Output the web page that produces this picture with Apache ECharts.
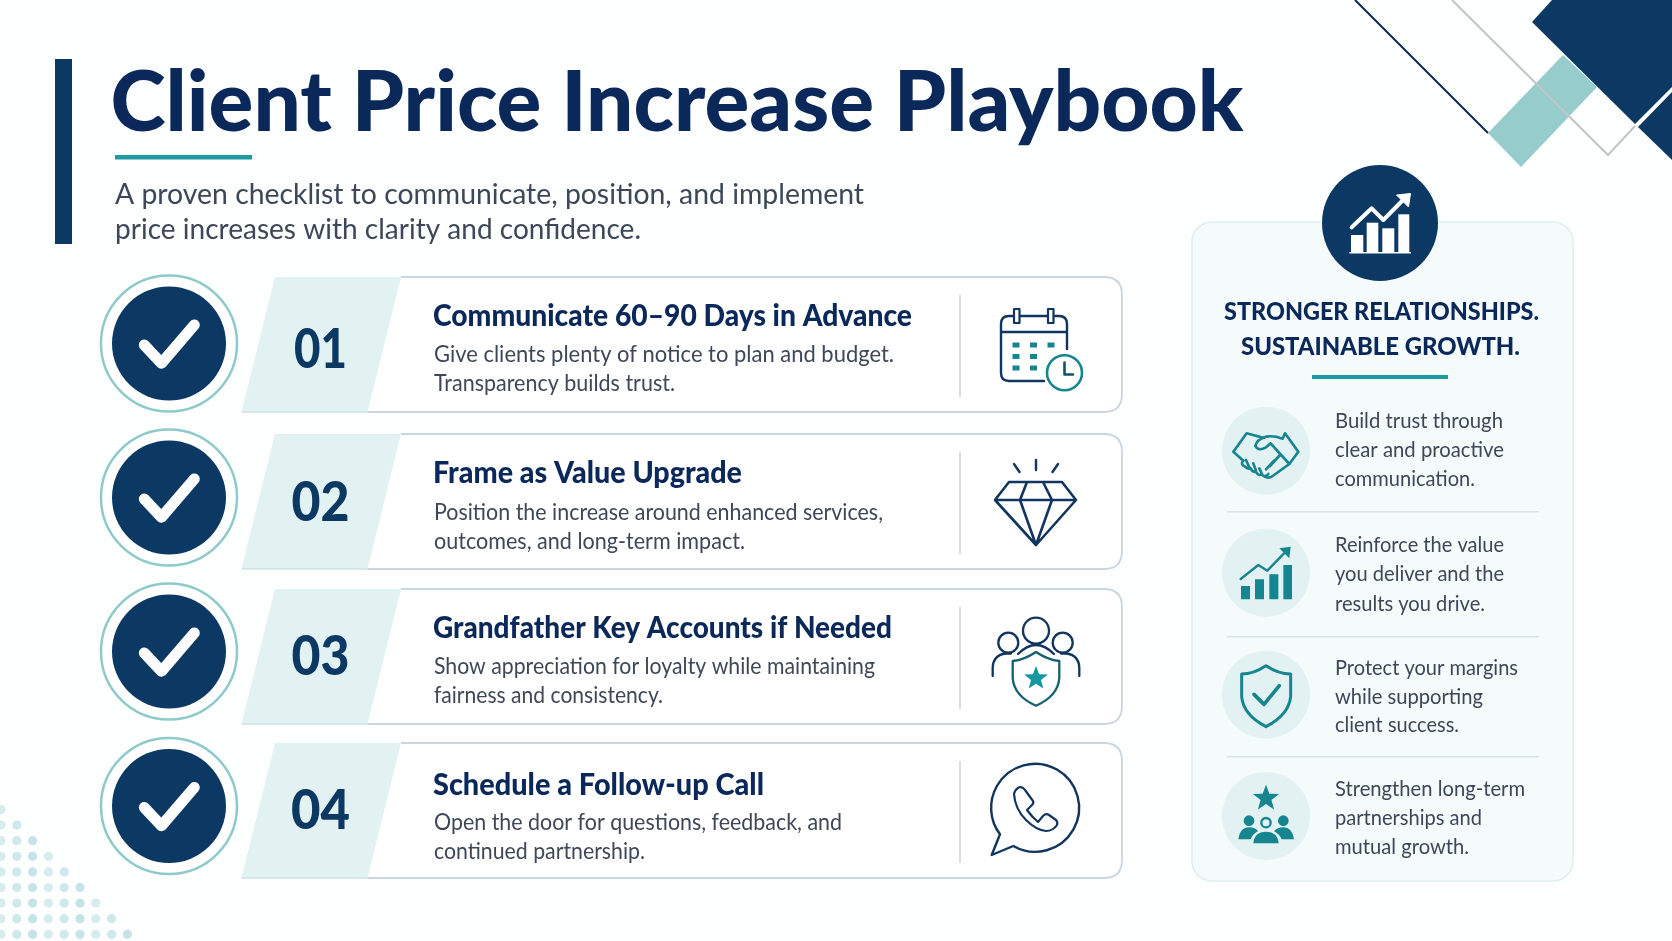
<!DOCTYPE html>
<html>
<head>
<meta charset="utf-8">
<title>Client Price Increase Playbook</title>
<script src="https://cdn.jsdelivr.net/npm/echarts@6/dist/echarts.min.js"></script>
<style>
html,body{margin:0;padding:0;background:#fdfefe;}
#main{width:1672px;height:941px;}
</style>
</head>
<body>
<div id="main"></div>
<script>
// texts
var pageTitle = 'Client Price Increase Playbook';
var subtitleLines = ['A proven checklist to communicate, position, and implement', 'price increases with clarity and confidence.'];
var stepNumbers = ['01', '02', '03', '04'];
var stepTitles = ['Communicate 60–90 Days in Advance', 'Frame as Value Upgrade', 'Grandfather Key Accounts if Needed', 'Schedule a Follow-up Call'];
var stepLines1 = ['Give clients plenty of notice to plan and budget.', 'Position the increase around enhanced services,', 'Show appreciation for loyalty while maintaining', 'Open the door for questions, feedback, and'];
var stepLines2 = ['Transparency builds trust.', 'outcomes, and long-term impact.', 'fairness and consistency.', 'continued partnership.'];
var panelHeading = ['STRONGER RELATIONSHIPS.', 'SUSTAINABLE GROWTH.'];
var benefitLines = [
    ['Build trust through', 'clear and proactive', 'communication.'],
    ['Reinforce the value', 'you deliver and the', 'results you drive.'],
    ['Protect your margins', 'while supporting', 'client success.'],
    ['Strengthen long-term', 'partnerships and', 'mutual growth.']
];
var dotsPerRow = [1, 2, 3, 4, 5, 6, 7, 8, 9];

// layout
var W_TITLE = 1133;
var W_SUB = [749, 526];
var W_STEP = [479, 309, 459, 331];
var W_L1 = [460, 449, 441, 408];
var W_L2 = [241, 311, 229, 211];
var W_NUM = [53, 58, 58, 59];
var W_HEAD = [315, 279];
var W_BEN = [[168, 169, 140], [169, 169, 150], [183, 148, 124], [190, 147, 134]];
var ROW_TOP = [277, 434, 589, 743];
var CIRCLE_Y = [343.5, 497.5, 651.5, 806];
var NUM_Y = [349.5, 503, 656.5, 810.5];
var TITLE_Y = [316.5, 473.5, 628.5, 785];
var LINE1_Y = [355, 512.5, 666.5, 822.5];
var LINE2_Y = [384, 541.5, 695.5, 851.5];
var BEN_Y = [450.7, 572.7, 694.7, 816];
var BEN_TEXT_Y = [[420.5, 450, 479], [545, 574, 604], [668, 697, 725], [789, 818, 847]];
var DIVIDER_Y = [511, 636, 756];

var NAVY = '#0c3964';
var INK = '#0a2859';
var GREY = '#3d4757';
var TEAL = '#1c9ba3';
var ICON_TEAL = '#16858f';
var PALE = '#e2f1f1';

var measure = document.createElement('canvas').getContext('2d');
var els = [];

// text squeezed to the width it has in the picture
function txt(x, y, s, size, weight, color, width, align) {
    var font = weight + ' ' + size + 'px "Lato"';
    measure.font = font;
    var k = width ? width / measure.measureText(s).width : 1;
    els.push({type: 'text', x: x, y: y, scaleX: k, silent: true,
        style: {text: s, x: 0, y: 0, font: font, fill: color, align: align || 'left', verticalAlign: 'middle'}});
}

var pathCount = 0;
function pth(d, style, tf) {
    var name = 'iconPath' + (pathCount++);
    echarts.graphic.registerShape(name, echarts.graphic.extendPath(d));
    var el = {type: name, silent: true, style: style};
    if (tf) { el.x = tf[0]; el.y = tf[1]; el.scaleX = tf[2]; el.scaleY = tf[2]; }
    els.push(el);
}
function line(color, w) { return {fill: 'none', stroke: color, lineWidth: w, lineCap: 'round', lineJoin: 'round'}; }
function solid(color) { return {fill: color}; }
function star(cx, cy, r) {
    var d = '';
    for (var i = 0; i < 10; i++) {
        var a = -Math.PI / 2 + i * Math.PI / 5, q = i % 2 ? r * 0.42 : r;
        d += (i ? 'L' : 'M') + (cx + q * Math.cos(a)).toFixed(1) + ' ' + (cy + q * Math.sin(a)).toFixed(1);
    }
    return d + 'Z';
}
function circle(cx, cy, r, style) { els.push({type: 'circle', silent: true, shape: {cx: cx, cy: cy, r: r}, style: style}); }
function rect(x, y, w, h, fill, r) { els.push({type: 'rect', silent: true, shape: {x: x, y: y, width: w, height: h, r: r || 0}, style: {fill: fill}}); }

// corner decoration, top right
pth('M1552 0H1672V87L1635 124L1532 22Z', solid(NAVY));
pth('M1638 127L1672 92V160Z', solid(NAVY));
pth('M1563 55L1597 87L1521 167L1488 133Z', solid('#97cccd'));
pth('M1355 0L1488 133', {fill: 'none', stroke: INK, lineWidth: 2});
pth('M1452 0L1608 155L1635 126', {fill: 'none', stroke: '#c2c5c7', lineWidth: 2});

// dots, bottom left
for (var r = 0; r < dotsPerRow.length; r++) {
    for (var c = 0; c < dotsPerRow[r]; c++) {
        circle(1 + c * 15.8, 809.5 + r * 15.6, 4.6, {fill: '#a9d6da', opacity: 0.45 + (c % 3) * 0.1});
    }
}

// header
rect(55, 59, 17, 185, NAVY);
txt(110.5, 104, pageTitle, 84, 900, INK, W_TITLE);
rect(115, 155, 137, 4.5, TEAL);
for (var s = 0; s < subtitleLines.length; s++) {
    txt(115, [195, 230][s], subtitleLines[s], 28, 400, GREY, W_SUB[s]);
}

// step cards
for (var i = 0; i < 4; i++) {
    var t = ROW_TOP[i], b = t + 135, cy = CIRCLE_Y[i];
    circle(169, cy, 68, {fill: '#fff', stroke: '#8fcaca', lineWidth: 2.5});
    circle(169, cy, 57, {fill: NAVY});
    pth('M' + 144.3 + ' ' + (cy + 1.5) + 'L161.4 ' + (cy + 19.8) + 'L194.3 ' + (cy - 18.5), line('#fff', 11));

    pth('M401 ' + t + 'H1104Q1122 ' + t + ' 1122 ' + (t + 18) + 'V' + (b - 18) + 'Q1122 ' + b + ' 1104 ' + b + 'H367.5Z', solid('#fff'));
    pth('M401 ' + t + 'H1104Q1122 ' + t + ' 1122 ' + (t + 18) + 'V' + (b - 18) + 'Q1122 ' + b + ' 1104 ' + b + 'H367.5', {fill: 'none', stroke: '#c9d6e2', lineWidth: 1.8});
    pth('M275 ' + t + 'H401L367.5 ' + b + 'H241.5Z', solid(PALE));
    pth('M241.5 ' + b + 'H367.5', {fill: 'none', stroke: '#cfe0e3', lineWidth: 1.5});

    txt(320.5, NUM_Y[i], stepNumbers[i], 56, 900, NAVY, W_NUM[i], 'center');
    txt(433, TITLE_Y[i], stepTitles[i], 30, 900, INK, W_STEP[i]);
    txt(434, LINE1_Y[i], stepLines1[i], 22.5, 400, GREY, W_L1[i]);
    txt(434, LINE2_Y[i], stepLines2[i], 22.5, 400, GREY, W_L2[i]);
    rect(959, t + 18, 2, 102, '#d9dde0');
}

// card icons: calendar
pth('M1067 349V324Q1067 316 1059 316H1009Q1001 316 1001 324V373Q1001 381 1009 381H1044M1001 332H1067', line('#12355f', 2.4));
pth('M1014 309H1019.5V323H1014ZM1048 309H1053.5V323H1048Z', {fill: '#fff', stroke: '#12355f', lineWidth: 2.2, lineJoin: 'round'});
var calX = [1012.5, 1030, 1047.5], calY = [342.5, 354, 365.5];
for (var cr = 0; cr < 3; cr++) {
    for (var cc = 0; cc < (cr ? 2 : 3); cc++) { rect(calX[cc], calY[cr], 7, 5, ICON_TEAL); }
}
circle(1064.5, 372.7, 17.5, {fill: '#fff', stroke: ICON_TEAL, lineWidth: 2.6});
pth('M1064.5 362.5V374.5H1073', line('#14506a', 2.6));

// diamond
pth('M1009 482H1062L1076 500L1036 545L995 500ZM995 500H1076M1020 500L1036 545L1052 500M1020 500L1027 482M1052 500L1043 482', line('#12355f', 2.6));
pth('M1036 460V470M1014 464L1019.5 472M1058 464L1052.5 472', line('#12355f', 2.4));

// people with shield
circle(1036, 630.7, 13, {fill: 'none', stroke: '#12355f', lineWidth: 2.3});
circle(1008.3, 642.7, 10, {fill: 'none', stroke: '#12355f', lineWidth: 2.3});
circle(1062.7, 642.7, 10, {fill: 'none', stroke: '#12355f', lineWidth: 2.3});
pth('M992.7 676V668Q993 655 1006 653.5H1011M1079.3 676V668Q1079 655 1066 653.5H1061M1018 654Q1036 636 1054 654', line('#12355f', 2.3));
pth('M1036 652Q1024 660 1012.7 661V678Q1014 696 1036 705.7Q1058 696 1059.3 678V661Q1048 660 1036 652Z', line('#14606f', 2.3));
pth(star(1036, 678.5, 12.5), solid('#15979f'));

// phone bubble
pth('M1000 834.3L991.7 855L1013.3 846A44 44 0 1 0 1000 834.3Z', line('#12355f', 2.4));
pth('M1014 794Q1015 789 1020 787Q1023 787 1025 790L1033 801Q1034 803 1032 805L1027 810Q1032 817 1038 822L1043 816Q1046 813 1049 815L1056 820Q1058 822 1057 825Q1053 831 1046 831Q1036 830 1026 820Q1015 809 1014 794Z', line('#12355f', 2.2));

// right panel
els.push({type: 'rect', silent: true, shape: {x: 1192, y: 222, width: 381, height: 659, r: 20}, style: {fill: '#f5fafb', stroke: '#e1eef0', lineWidth: 1.5}});
circle(1380, 223, 58, {fill: NAVY});
for (var br = 0; br < 4; br++) {
    rect([1351, 1366.7, 1382.3, 1398.3][br], [235, 222.7, 228.3, 214.3][br], [12.3, 11.6, 12, 11][br], 252 - [235, 222.7, 228.3, 214.3][br], '#fff');
}
rect(1349.3, 252, 61.7, 1.6, '#fff');
pth('M1351.7 227.3L1371.7 208.3L1383.3 220L1405 198', line('#fff', 4));
pth('M1410.5 193.5L1396.5 195L1408.5 207Z', {fill: '#fff', stroke: '#fff', lineWidth: 1});

txt(1381.5, 312, panelHeading[0], 24.5, 900, INK, W_HEAD[0], 'center');
txt(1380.5, 347, panelHeading[1], 24.5, 900, INK, W_HEAD[1], 'center');
rect(1312, 375, 136, 4, TEAL);

for (var d = 0; d < DIVIDER_Y.length; d++) { rect(1227, DIVIDER_Y[d], 312, 1.5, '#dbe4e6'); }
for (var n = 0; n < 4; n++) {
    circle(1266, BEN_Y[n], 44, {fill: PALE});
    for (var ln = 0; ln < 3; ln++) {
        txt(1335, BEN_TEXT_Y[n][ln], benefitLines[n][ln], 22, 400, GREY, W_BEN[n][ln]);
    }
}

// panel icons, drawn in crop coordinates and scaled down
var tfA = [1190, 150, 1 / 3], tfB = [1190, 510, 1 / 3];
// handshake
pth('M130 905L170 850L222 864M285 850L325 905L298 942L248 978Q235 988 222 978M285 850L278 866Q250 856 228 860Q200 868 196 888Q205 905 228 892L242 880L298 942M130 905L160 932', line(ICON_TEAL, 8), tfA);
pth('M160 932Q150 942 165 950Q172 958 182 955Q187 968 198 965Q203 978 215 973Q224 985 235 972M168 930L178 952M190 940L198 962M208 955L216 972M270 915L240 948M252 932L228 958', line(ICON_TEAL, 8), tfA);
// growth chart
pth('M153 228H180V268H153ZM195 208H222V268H195ZM238 193H265V268H238ZM280 165H306V268H280Z', solid(ICON_TEAL), tfB);
pth('M152 207L205 165L232 182L290 122', line(ICON_TEAL, 7), tfB);
pth('M302 110L268 115L298 145Z', solid(ICON_TEAL), tfB);
// shield with tick
pth('M228 467Q190 492 155 492V560Q160 615 228 650Q296 615 302 560V492Q266 492 228 467Z', line(ICON_TEAL, 9), tfB);
pth('M192 553L222 583L268 527', line(ICON_TEAL, 11), tfB);
// team with star
pth(star(228, 865, 41), solid(ICON_TEAL), tfB);
pth('M161 932A16 16 0 1 0 193 932A16 16 0 1 0 161 932ZM264 932A16 16 0 1 0 296 932A16 16 0 1 0 264 932Z', solid(ICON_TEAL), tfB);
pth('M214 938A14 14 0 1 0 242 938A14 14 0 1 0 214 938Z', line(ICON_TEAL, 7), tfB);
pth('M145 988Q150 952 178 952Q196 952 204 964Q188 972 182 988ZM312 988Q307 952 280 952Q262 952 252 964Q268 972 275 988ZM190 1000Q193 965 228 965Q263 965 266 1000Z', solid(ICON_TEAL), tfB);

var chart = echarts.init(document.getElementById('main'));
chart.setOption({
    backgroundColor: '#fdfefe',
    animation: false,
    graphic: {elements: els}
});
</script>
</body>
</html>
